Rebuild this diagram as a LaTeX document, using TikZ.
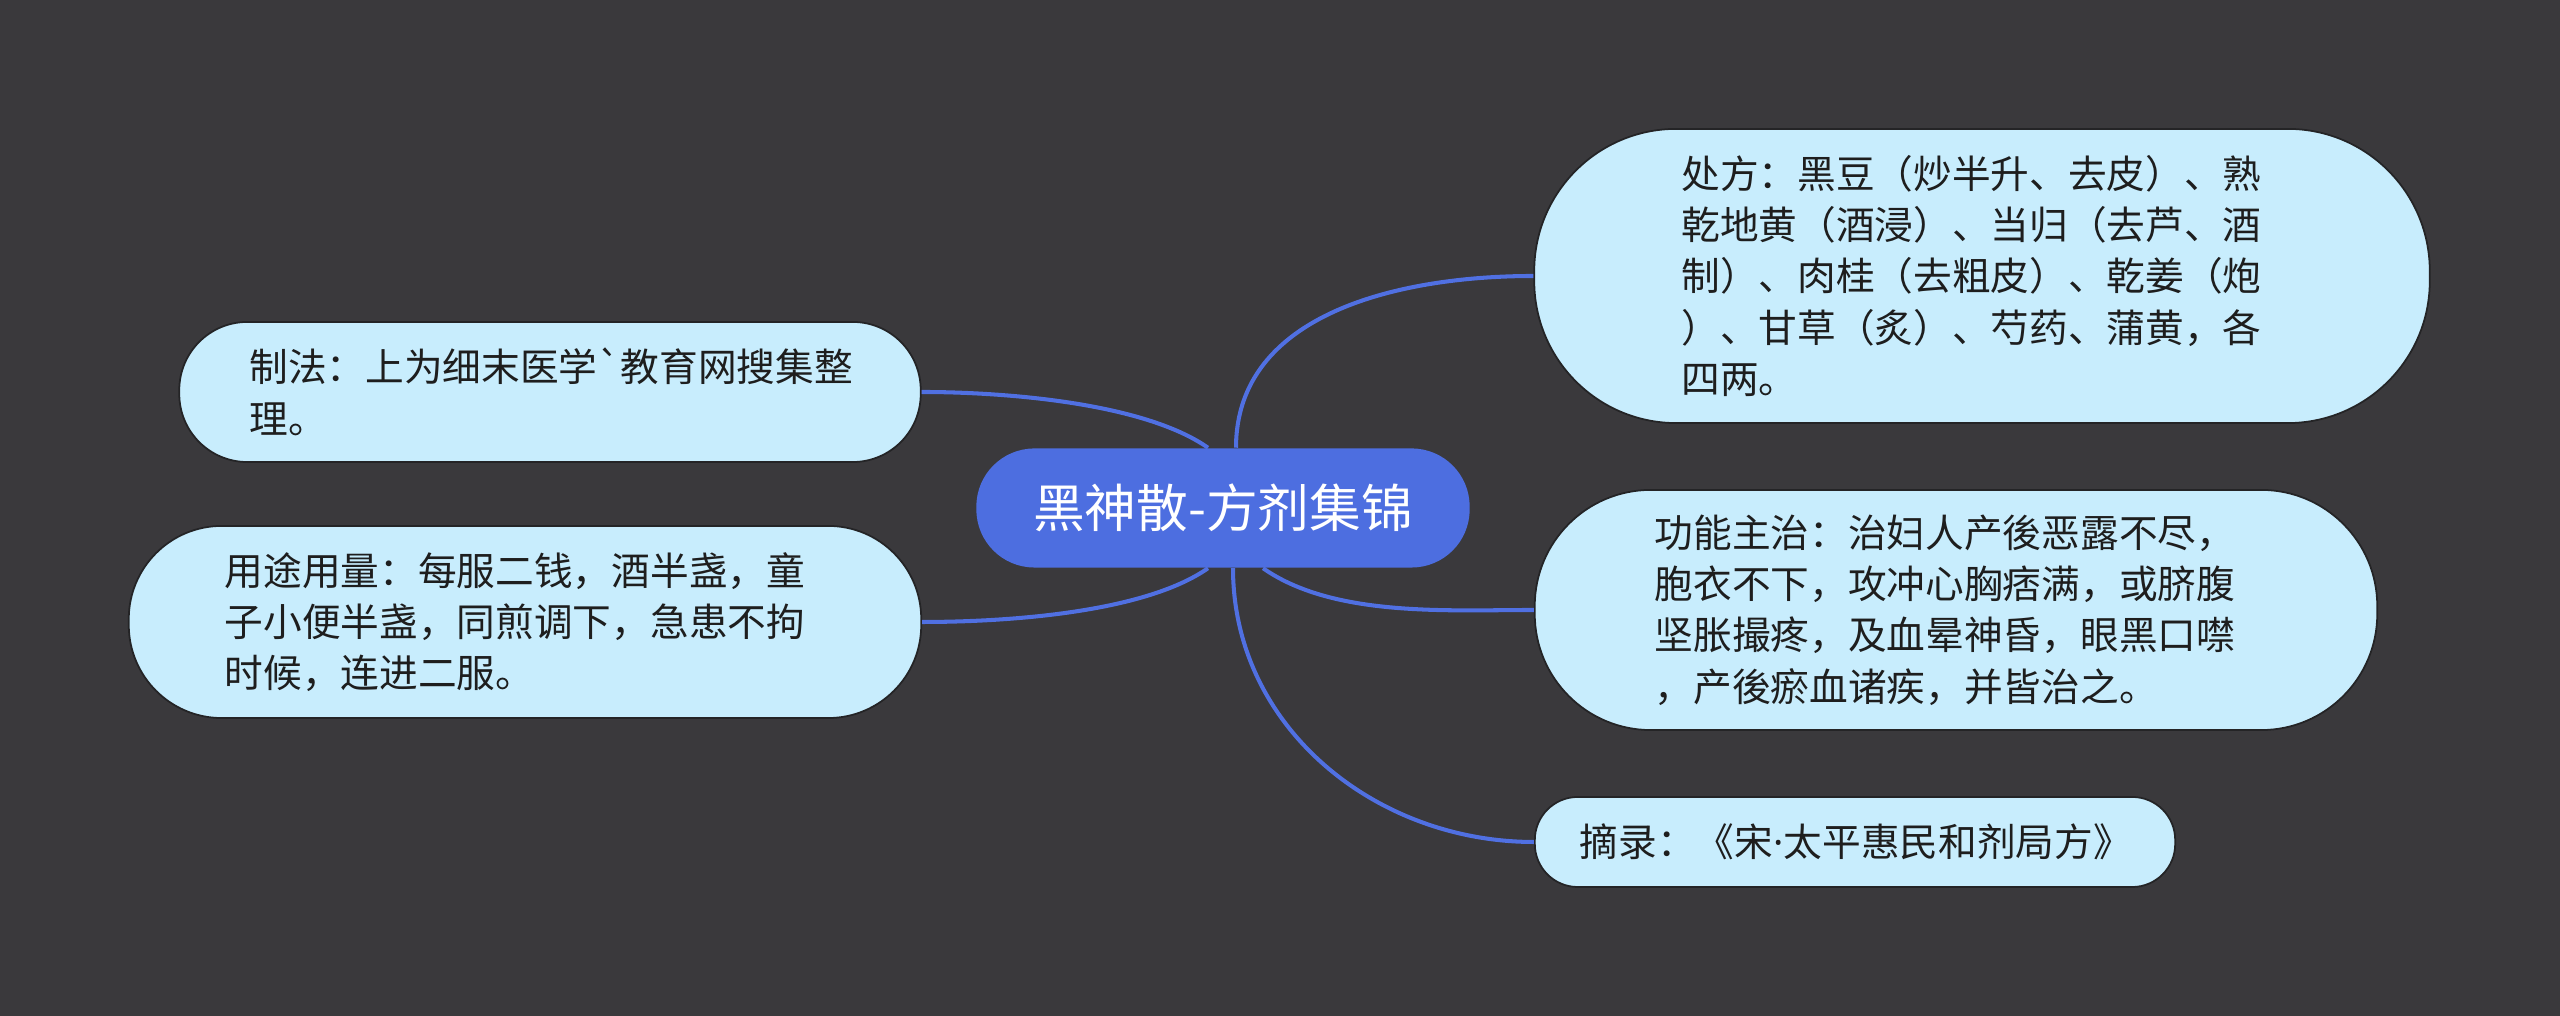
\documentclass[tikz,border=0pt]{standalone}
\usepackage{fontspec}
\newfontfamily\cjk{Noto Sans CJK SC}
\newfontfamily\latn{Noto Sans}
\definecolor{canvasgrey}{RGB}{58,57,60}
\definecolor{rootblue}{RGB}{77,110,224}
\definecolor{twigblue}{RGB}{80,112,226}
\definecolor{leafcyan}{RGB}{200,237,253}
\definecolor{leafrim}{RGB}{36,36,38}
\definecolor{leafink}{RGB}{30,30,30}
\tikzset{
  root node/.style={rectangle,fill=rootblue,text=white,rounded corners=0.58cm,minimum width=4.93cm,minimum height=1.19cm,inner sep=0pt,font=\cjk\fontsize{14.7pt}{18pt}\selectfont},
  leaf node/.style={rectangle,fill=leafcyan,draw=leafrim,line width=0.5pt,text=leafink,align=left,inner ysep=0pt,font=\cjk\fontsize{11pt}{14.6pt}\selectfont},
  branch/.style={twigblue,line width=1.15pt},
}
\begin{document}
\begin{tikzpicture}[x=0.01cm,y=0.01cm]
  \fill[canvasgrey] (0,0) rectangle (2560,1016);
  \useasboundingbox (0,0) rectangle (2560,1016);
  \node[root node] (root) at (1223,508) {黑神散-方剂集锦};
  \node[leaf node,text width=6.01cm,inner xsep=1.47cm,minimum height=2.94cm,rounded corners=1.42cm] (rx) at (1982,740)
    {处方：黑豆（炒半升、去皮）、熟\\乾地黄（酒浸）、当归（去芦、酒\\制）、肉桂（去粗皮）、乾姜（炮\\）、甘草（炙）、芍药、蒲黄，各\\四两。};
  \node[leaf node,text width=6.02cm,inner xsep=1.2cm,minimum height=2.4cm,rounded corners=1.16cm] (gn) at (1956,406)
    {功能主治：治妇人产後恶露不尽，\\胞衣不下，攻冲心胸痞满，或脐腹\\坚胀撮疼，及血晕神昏，眼黑口噤\\，产後瘀血诸疾，并皆治之。};
  \node[leaf node,text width=5.5cm,inner xsep=0.45cm,minimum height=0.9cm,rounded corners=0.43cm] (zl) at (1855,174)
    {摘录：《宋{\latn ·}太平惠民和剂局方》};
  \node[leaf node,text width=6.01cm,inner xsep=0.7cm,minimum height=1.4cm,rounded corners=0.68cm] (zf) at (550,624)
    {制法：上为细末医学`教育网搜集整\\理。};
  \node[leaf node,text width=6cm,inner xsep=0.96cm,minimum height=1.92cm,rounded corners=0.93cm] (yt) at (525,394)
    {用途用量：每服二钱，酒半盏，童\\子小便半盏，同煎调下，急患不拘\\时候，连进二服。};
  \draw[branch] ([xshift=1.3mm]root.north) to[out=90,in=180] (rx.west);
  \draw[branch] ([xshift=4mm]root.south) to[out=-35,in=180,looseness=0.8] (gn.west);
  \draw[branch] ([xshift=1mm]root.south) to[out=-90,in=180] (zl.west);
  \draw[branch] ([xshift=-1.5mm]root.north) to[out=145,in=0,looseness=0.7] (zf.east);
  \draw[branch] ([xshift=-1.5mm]root.south) to[out=-145,in=0,looseness=0.7] (yt.east);
\end{tikzpicture}
\end{document}
